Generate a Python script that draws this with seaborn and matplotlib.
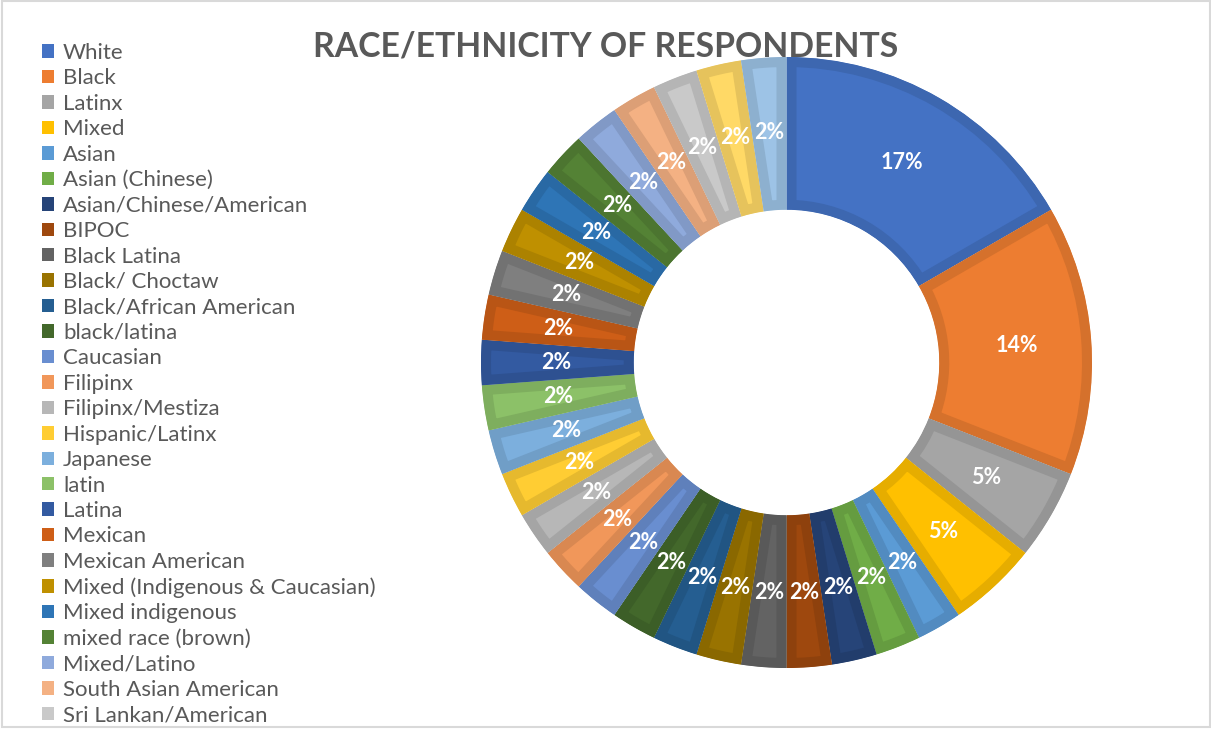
import matplotlib
matplotlib.use("Agg")
import numpy as np
import matplotlib.pyplot as plt
import matplotlib.colors as mcolors
from matplotlib.patches import Patch, Rectangle
import seaborn as sns

# Respondent counts per self-described race/ethnicity
categories = [
    "White", "Black", "Latinx", "Mixed", "Asian", "Asian (Chinese)",
    "Asian/Chinese/American", "BIPOC", "Black Latina", "Black/ Choctaw",
    "Black/African American", "black/latina", "Caucasian", "Filipinx",
    "Filipinx/Mestiza", "Hispanic/Latinx", "Japanese", "latin", "Latina",
    "Mexican", "Mexican American", "Mixed (Indigenous & Caucasian)",
    "Mixed indigenous", "mixed race (brown)", "Mixed/Latino",
    "South Asian American", "Sri Lankan/American", "Taiwanese", "Vietnamese",
]
counts = [7, 6, 2, 2, 1, 1,
          1, 1, 1, 1,
          1, 1, 1, 1,
          1, 1, 1, 1, 1,
          1, 1, 1,
          1, 1, 1,
          1, 1, 1, 1]
colors = [
    "#4472C4", "#ED7D31", "#A5A5A5", "#FFC000", "#5B9BD5", "#70AD47",
    "#264478", "#9E480E", "#636363", "#997300",
    "#255E91", "#43682B", "#698ED0", "#F1975A",
    "#B7B7B7", "#FFCD33", "#7CAFDD", "#8CC168", "#335AA1",
    "#CE5E17", "#7F7F7F", "#BF9000",
    "#2E75B6", "#548235", "#8FAADC",
    "#F4B183", "#C9C9C9", "#FFD966", "#9DC3E6",
]

# the legend column only has room for this many rows
legend_rows = 27

sns.set_theme(style="white")
plt.rcParams["font.family"] = ["Lato", "DejaVu Sans"]

W, H = 1211, 729
fig = plt.figure(figsize=(W / 100, H / 100), dpi=100)
fig.patch.set_facecolor("white")

# doughnut placement in pixels
cx, cy, R = 786.5, 362.5, 305.5
ax = fig.add_axes([(cx - R) / W, (H - cy - R) / H, 2 * R / W, 2 * R / H])


def shade(c, f=0.9):
    r, g, b = mcolors.to_rgb(c)
    return (r * f, g * f, b * f)


wedges, _ = ax.pie(
    counts,
    colors=colors,
    startangle=90,
    counterclock=False,
    radius=1.0,
    wedgeprops=dict(width=0.5, linewidth=0),
)

total = sum(counts)
for w, c, v in zip(wedges, colors, counts):
    # inner bevel: a darker stroke clipped to the wedge itself
    w.set_edgecolor(shade(c))
    w.set_linewidth(14.4)
    w.set_joinstyle("miter")
    w.set_clip_on(True)
    w.set_clip_path(w)
    mid = np.deg2rad((w.theta1 + w.theta2) / 2)
    r = 0.755
    ax.text(r * np.cos(mid), r * np.sin(mid), f"{round(v / total * 100)}%",
            ha="center", va="center", color="white", fontsize=15.5,
            fontweight="bold")

ax.set_xlim(-1, 1)
ax.set_ylim(-1, 1)
ax.set_aspect("equal")
ax.axis("off")

fig.text(605.5 / W, 1 - 46 / H, "RACE/ETHNICITY OF RESPONDENTS",
         ha="center", va="center", fontsize=24.3, fontweight="bold",
         color="#595959")

handles = [Patch(facecolor=c, edgecolor="none") for c in colors]
fig.legend(handles[:legend_rows], categories[:legend_rows], loc="upper left",
           bbox_to_anchor=(42 / W, 1 - 43 / H), frameon=False,
           borderpad=0, borderaxespad=0, fontsize=16,
           handlelength=0.55, handleheight=0.55, handletextpad=0.4,
           labelspacing=0.245, labelcolor="#595959")

fig.patches.append(Rectangle((2 / W, 2 / H), 1207.5 / W, 726 / H,
                             transform=fig.transFigure, fill=False,
                             edgecolor="#D9D9D9", linewidth=1.5))

fig.savefig("out.png", dpi=100)
